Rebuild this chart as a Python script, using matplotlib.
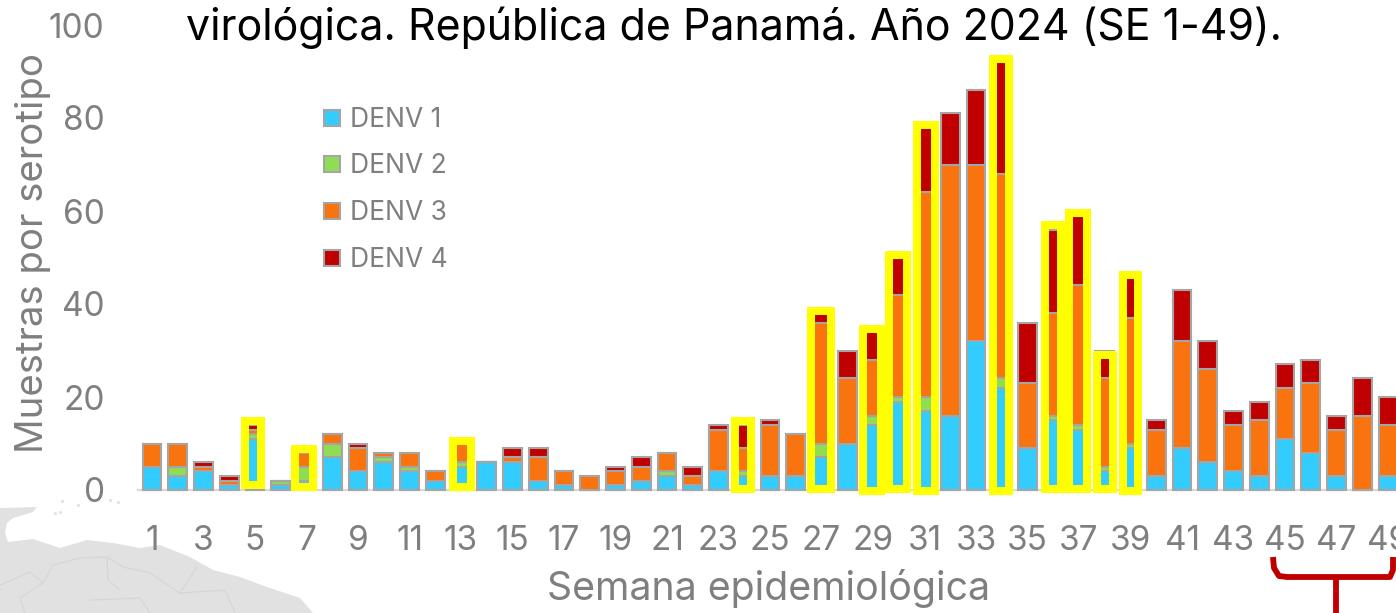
import matplotlib
matplotlib.use('Agg')
from matplotlib import pyplot as plt
from matplotlib.patches import Rectangle, Polygon

plt.rcParams['font.family'] = ['Inter', 'DejaVu Sans']

weeks = list(range(1, 50))
denv1 = [5, 3, 4, 1, 11, 1, 2, 7, 4, 6, 4, 2, 5, 6, 6, 2, 1, 0, 1, 2, 3, 1, 4, 3, 3,
         3, 7, 10, 14, 19, 17, 16, 32, 22, 9, 15, 13, 4, 9, 3, 9, 6, 4, 3, 11, 8, 3, 0, 3]
denv2 = [0, 2, 0, 0, 1, 1, 3, 3, 0, 1, 1, 0, 1, 0, 0, 0, 0, 0, 0, 0, 1, 0, 0, 1, 0,
         0, 3, 0, 2, 1, 3, 0, 0, 2, 0, 1, 1, 1, 1, 0, 0, 0, 0, 0, 0, 0, 0, 0, 0]
denv3 = [5, 5, 1, 1, 1, 0, 3, 2, 5, 1, 3, 2, 4, 0, 1, 5, 3, 3, 3, 3, 4, 2, 9, 5, 11,
         9, 26, 14, 12, 22, 44, 54, 38, 44, 14, 22, 30, 19, 27, 10, 23, 20, 10, 12, 11, 15, 10, 16, 11]
denv4 = [0, 0, 1, 1, 1, 0, 0, 0, 1, 0, 0, 0, 0, 0, 2, 2, 0, 0, 1, 2, 0, 2, 1, 5, 1,
         0, 2, 6, 6, 8, 14, 11, 16, 24, 13, 18, 15, 6, 9, 2, 11, 6, 3, 4, 5, 5, 3, 8, 6]

series_names = ['DENV 1', 'DENV 2', 'DENV 3', 'DENV 4']
series_colors = ['#33CCFF', '#8FDD55', '#F9730F', '#C00000']

x_ticks = list(range(1, 50, 2))
y_ticks = [0, 20, 40, 60, 80, 100]

title_text = 'virológica. República de Panamá. Año 2024 (SE 1-49).'
x_title = 'Semana epidemiológica'
y_title = 'Muestras por serotipo'

# yellow highlight frames, in axis units
frame_x = [4.92, 6.90, 13.03, 23.94, 26.97, 28.95, 29.96, 31.05, 33.96, 35.98, 36.95, 38.0, 39.0]
frame_top = [14.8, 8.8, 10.5, 14.8, 38.5, 34.6, 50.5, 78.5, 92.7, 57, 59.6, 29, 46.2]
frame_bottom = [1.1, 0.65, 0.65, 0.2, 0.2, -0.2, 0.2, -0.2, -0.2, 0.2, 0.2, 0.2, -0.2]
frame_width = [0.62, 0.70, 0.70, 0.62, 0.78, 0.70, 0.70, 0.70, 0.62, 0.62, 0.70, 0.62, 0.62]

GREY_TEXT = '#7F7F7F'
GREY_EDGE = '#A5A5A5'
W, H = 1396, 613

fig = plt.figure(figsize=(W / 100, H / 100), dpi=100, facecolor='white')

# background layer in pixels: map and brace
bg = fig.add_axes([0, 0, 1, 1], zorder=0)
bg.set_xlim(0, W)
bg.set_ylim(H, 0)
bg.axis('off')

land = [(0, 508), (37, 507), (33, 512), (13, 518), (7, 523), (5, 533), (8, 542), (33, 539),
        (60, 548), (87, 540), (113, 543), (140, 548), (160, 545), (190, 557), (213, 570),
        (240, 577), (267, 587), (300, 598), (313, 613), (0, 613)]
bg.add_patch(Polygon(land, closed=True, facecolor='#E1E1E1', edgecolor='none'))
borders = [[(43, 583), (53, 565), (80, 558), (107, 557), (123, 567), (150, 573), (180, 593)],
           [(107, 557), (108, 580), (120, 590)],
           [(0, 585), (30, 572), (43, 583), (20, 598), (25, 613)],
           [(180, 593), (197, 567)],
           [(180, 593), (225, 590), (235, 613)],
           [(90, 600), (140, 598), (150, 613)]]
for line in borders:
    bg.plot([p[0] for p in line], [p[1] for p in line], color='#D6D6D6', lw=0.9)
islands = [(62, 501), (78, 505), (55, 513), (110, 500), (118, 502), (60, 512)]
bg.scatter([p[0] for p in islands], [p[1] for p in islands], s=5, color='#E1E1E1', lw=0)

brace_left = [(1273, 557), (1274, 568), (1279, 576), (1287, 577), (1336, 577)]
brace_right = [(1393, 557), (1393, 570), (1390, 577), (1336, 577)]
brace_stem = [(1336, 577), (1336, 613)]
for line in [brace_left, brace_right, brace_stem]:
    bg.plot([p[0] for p in line], [p[1] for p in line], color='#C00000', lw=4.2,
            solid_capstyle='butt', solid_joinstyle='round')

# main chart
ax = fig.add_axes([138 / W, (H - 490) / H, (W - 138) / W, 465 / H], zorder=1)
ax.patch.set_alpha(0)
ax.set_xlim(0.457, 49.31)
ax.set_ylim(0, 100)

bottom = [0] * len(weeks)
for values, color in zip([denv1, denv2, denv3, denv4], series_colors):
    ax.bar(weeks, values, width=0.72, bottom=bottom, color=color,
           edgecolor=GREY_EDGE, linewidth=1.5, zorder=2, clip_on=False)
    bottom = [b + v for b, v in zip(bottom, values)]

for x, top, low, w in zip(frame_x, frame_top, frame_bottom, frame_width):
    ax.add_patch(Rectangle((x - w / 2, low), w, top - low, fill=False, edgecolor='#FFFF00',
                           linewidth=5.76, zorder=3, clip_on=False))

for side in ['top', 'right', 'left']:
    ax.spines[side].set_visible(False)
ax.spines['bottom'].set_color('#D9D9D9')
ax.spines['bottom'].set_linewidth(1.6)
ax.spines['bottom'].set_zorder(1)

ax.set_xticks(x_ticks)
ax.set_yticks(y_ticks)
ax.tick_params(axis='both', length=0, labelsize=24, labelcolor=GREY_TEXT)
ax.tick_params(axis='x', pad=25)
ax.tick_params(axis='y', pad=24)

fig.text(33 / W, 1 - 253 / H, y_title, rotation=90, ha='center', va='center',
         fontsize=27.6, color=GREY_TEXT)
fig.text(769 / W, 1 - 589 / H, x_title, ha='center', va='center',
         fontsize=28.3, color=GREY_TEXT)
fig.text(734.5 / W, 1 - 28 / H, title_text, ha='center', va='center',
         fontsize=30.9, color='black')

# legend by hand so the rows land where they do in the slide
legend_y = [118, 164, 211, 258]
for name, color, y in zip(series_names, series_colors, legend_y):
    bg.add_patch(Rectangle((324, y - 8), 16, 16, facecolor=color, edgecolor=GREY_EDGE, linewidth=1.5))
    bg.text(350, y + 2, name, ha='left', va='center', fontsize=19, color=GREY_TEXT)

plt.savefig('out.png', dpi=100)
